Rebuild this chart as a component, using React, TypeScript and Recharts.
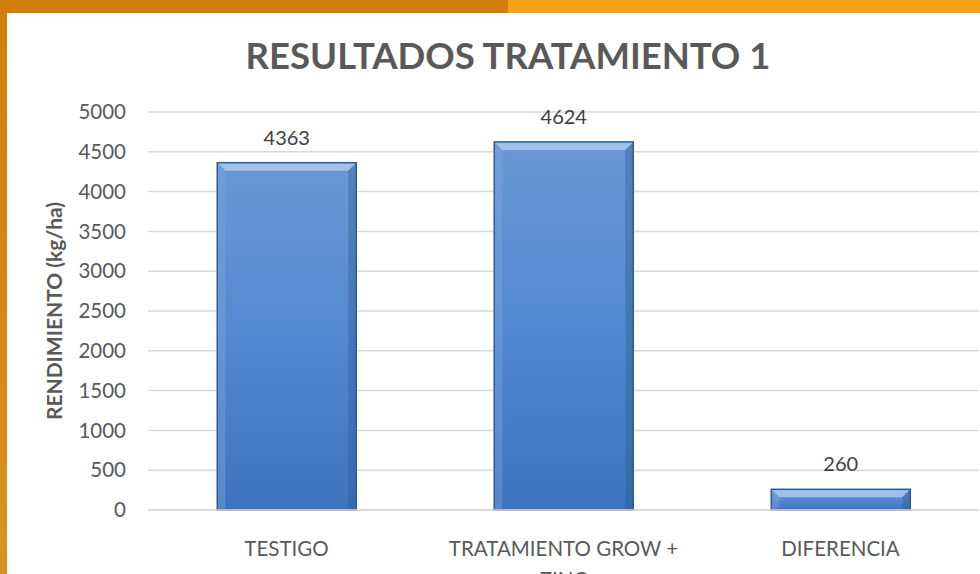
import React from 'react';
import { BarChart, Bar, XAxis, YAxis, CartesianGrid, LabelList } from 'recharts';

const CATEGORIES = ['TESTIGO', 'TRATAMIENTO GROW + ZINC', 'DIFERENCIA'];
const RENDIMIENTO = [4363, 4624, 260];
const Y_TICKS = [0, 500, 1000, 1500, 2000, 2500, 3000, 3500, 4000, 4500, 5000];

const data = CATEGORIES.map((name, i) => ({ name, value: RENDIMIENTO[i] }));

const FONT = 'Lato, "Open Sans", sans-serif';
const GRAY = '#595959';

const BevelBar = (props: any) => {
  const { x, y, width, height } = props;
  if (!height || height <= 0) return null;
  const b = Math.min(8, height / 2);
  return (
    <g>
      <rect x={x} y={y} width={width} height={height} fill="url(#barFill)" />
      <polygon
        points={`${x},${y} ${x + width},${y} ${x + width - b},${y + b} ${x + b},${y + b}`}
        fill="#A9C8EE"
        opacity={0.85}
      />
      <polygon
        points={`${x},${y} ${x + b},${y + b} ${x + b},${y + height - 2} ${x},${y + height}`}
        fill="#7FA8DE"
        opacity={0.4}
      />
      <polygon
        points={`${x + width},${y} ${x + width - b},${y + b} ${x + width - b},${y + height - 2} ${x + width},${y + height}`}
        fill="#2B568F"
        opacity={0.35}
      />
      <rect x={x} y={y} width={width} height={height} fill="none" stroke="#2F5A94" strokeWidth={1.5} />
    </g>
  );
};

const CategoryTick = (props: any) => {
  const { x, y, payload } = props;
  const words = String(payload.value).split(' ');
  const lines: string[] = [];
  if (words.length > 3) {
    lines.push(words.slice(0, 3).join(' '));
    lines.push(words.slice(3).join(' '));
  } else {
    lines.push(words.join(' '));
  }
  return (
    <text x={x} y={y} textAnchor="middle" fill={GRAY} fontSize={20.5} fontFamily={FONT}>
      {lines.map((l, i) => (
        <tspan key={i} x={x} dy={i === 0 ? 38 : 31}>
          {l}
        </tspan>
      ))}
    </text>
  );
};

const AxisTitle = () => (
  <text
    x={62}
    y={311}
    transform="rotate(-90 62 311)"
    textAnchor="middle"
    fill={GRAY}
    fontSize={21}
    fontWeight="bold"
    fontFamily={FONT}
  >
    RENDIMIENTO (kg/ha)
  </text>
);

export default function App() {
  return (
    <div style={{ position: 'absolute', left: 0, top: 0, width: 980, height: 574, background: '#fff', overflow: 'hidden' }}>
      <div style={{ position: 'absolute', left: 0, top: 0, width: 508, height: 13, background: '#D17F0A' }} />
      <div style={{ position: 'absolute', left: 508, top: 0, width: 472, height: 13, background: '#F4A316' }} />
      <div style={{ position: 'absolute', left: 0, top: 0, width: 7, height: 574, background: 'linear-gradient(#D17F0A, #D79122)' }} />
      <div
        style={{
          position: 'absolute',
          left: 0,
          top: 34,
          width: 1016,
          textAlign: 'center',
          fontFamily: FONT,
          fontWeight: 'bold',
          fontSize: 36.5,
          color: GRAY,
          lineHeight: '42px',
        }}
      >
        RESULTADOS TRATAMIENTO 1
      </div>
      <div style={{ position: 'absolute', left: 0, top: 0 }}>
        <BarChart width={980} height={574} data={data} margin={{ top: 112, right: 1, bottom: 0, left: 0 }} barCategoryGap="25%">
          <defs>
            <linearGradient id="barFill" x1="0" y1="0" x2="0" y2="1">
              <stop offset="0%" stopColor="#6B98D6" />
              <stop offset="50%" stopColor="#5289D0" />
              <stop offset="100%" stopColor="#3D73BB" />
            </linearGradient>
          </defs>
          <CartesianGrid vertical={false} stroke="#D9D9D9" strokeWidth={1.5} />
          <XAxis
            dataKey="name"
            height={64}
            axisLine={{ stroke: '#D9D9D9', strokeWidth: 1.5 }}
            tickLine={false}
            tick={<CategoryTick />}
            interval={0}
          />
          <YAxis
            width={148}
            domain={[0, 5000]}
            ticks={Y_TICKS}
            axisLine={false}
            tickLine={false}
            tickSize={0}
            tickMargin={22}
            tick={{ fill: GRAY, fontSize: 20.5, fontFamily: FONT }}
            label={<AxisTitle />}
          />
          <Bar dataKey="value" shape={<BevelBar />} isAnimationActive={false}>
            <LabelList dataKey="value" position="top" offset={18} fill="#404040" fontSize={20} fontFamily={FONT} />
          </Bar>
        </BarChart>
      </div>
    </div>
  );
}
